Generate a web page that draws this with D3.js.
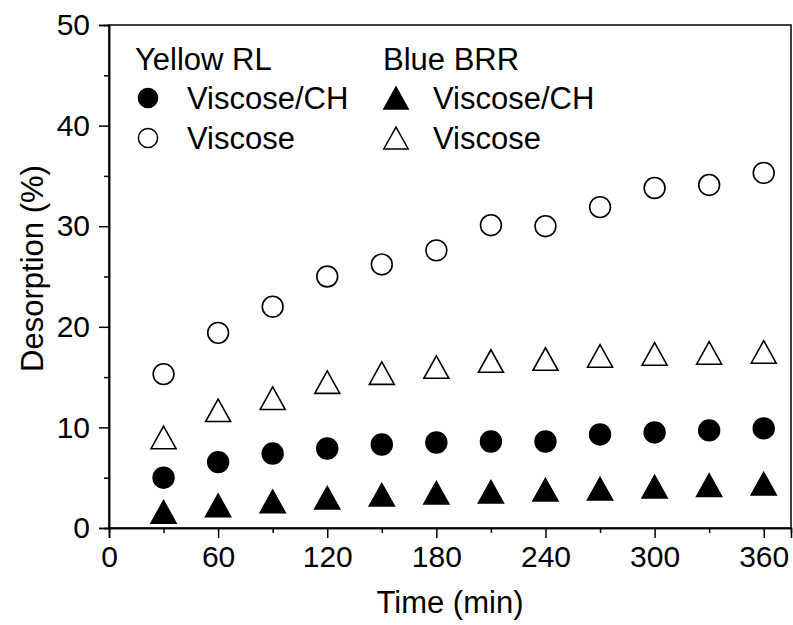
<!DOCTYPE html>
<html>
<head>
<meta charset="utf-8">
<script src="https://cdn.jsdelivr.net/npm/d3@7"></script>
<style>
  html, body { margin: 0; padding: 0; background: #fff; }
  svg { display: block; font-family: "Liberation Sans", Arial, sans-serif; }
</style>
</head>
<body>
<svg id="chart" width="793" height="625"></svg>
<script>
// ---- data ----
const times = [30, 60, 90, 120, 150, 180, 210, 240, 270, 300, 330, 360];
const yellowViscoseCH = [5.0, 6.55, 7.4, 7.9, 8.3, 8.5, 8.6, 8.6, 9.3, 9.5, 9.7, 9.9];
const yellowViscose   = [15.3, 19.4, 22.0, 25.0, 26.2, 27.6, 30.1, 30.0, 31.9, 33.8, 34.1, 35.3];
const blueViscoseCH   = [1.6, 2.25, 2.65, 3.0, 3.3, 3.5, 3.6, 3.8, 3.9, 4.1, 4.25, 4.4];
const blueViscose     = [9.0, 11.7, 12.9, 14.5, 15.4, 16.0, 16.6, 16.8, 17.1, 17.3, 17.4, 17.5];
const xTicks = [0, 60, 120, 180, 240, 300, 360];
const xMinorTicks = [30, 90, 150, 210, 270, 330];
const yTicks = [0, 10, 20, 30, 40, 50];
const yMinorTicks = [5, 15, 25, 35, 45];
const xLabel = "Time (min)";
const yLabel = "Desorption (%)";
const legendGroups = [
  { title: "Yellow RL", items: [
    { label: "Viscose/CH", shape: "circle", filled: true },
    { label: "Viscose", shape: "circle", filled: false } ] },
  { title: "Blue BRR", items: [
    { label: "Viscose/CH", shape: "triangle", filled: true },
    { label: "Viscose", shape: "triangle", filled: false } ] }
];
const series = [
  { values: yellowViscose, shape: "circle", filled: false },
  { values: blueViscose, shape: "triangle", filled: false },
  { values: yellowViscoseCH, shape: "circle", filled: true },
  { values: blueViscoseCH, shape: "triangle", filled: true }
];

// ---- layout ----
const margin = { left: 109, top: 25, right: 2, bottom: 97 };
const W = 793, H = 625;
const svg = d3.select("#chart");
const x = d3.scaleLinear().domain([0, 375]).range([margin.left, W - margin.right]);
const y = d3.scaleLinear().domain([0, 50]).range([H - margin.bottom, margin.top]);

// custom triangle centred on its bounding box
const triangleBox = {
  draw(ctx, size) {
    const s = Math.sqrt(size);
    const h = s * 0.9;
    ctx.moveTo(0, -h / 2);
    ctx.lineTo(s / 2, h / 2);
    ctx.lineTo(-s / 2, h / 2);
    ctx.closePath();
  }
};
function symbolPath(shape, scale) {
  if (shape === "circle") return d3.symbol().type(d3.symbolCircle).size(Math.PI * 10.4 * 10.4 * scale)();
  return d3.symbol().type(triangleBox).size(25 * 25 * scale)();
}

// frame
svg.append("rect")
  .attr("x", x(0)).attr("y", y(50))
  .attr("width", x(375) - x(0)).attr("height", y(0) - y(50))
  .attr("fill", "none").attr("stroke", "#000").attr("stroke-width", 1.5);

// x axis
const xAxis = d3.axisBottom(x).tickValues(xTicks).tickSize(10).tickPadding(8).tickFormat(d3.format("d"));
const gx = svg.append("g").attr("transform", `translate(0,${y(0)})`).call(xAxis);
const gxm = svg.append("g").attr("transform", `translate(0,${y(0)})`)
  .call(d3.axisBottom(x).tickValues(xMinorTicks).tickSize(5).tickFormat(""));
// y axis
const yAxis = d3.axisLeft(y).tickValues(yTicks).tickSize(10).tickPadding(9).tickFormat(d3.format("d"));
const gy = svg.append("g").attr("transform", `translate(${x(0)},0)`).call(yAxis);
const gym = svg.append("g").attr("transform", `translate(${x(0)},0)`)
  .call(d3.axisLeft(y).tickValues(yMinorTicks).tickSize(5).tickFormat(""));
[gx, gxm, gy, gym].forEach(g => {
  g.select(".domain").attr("stroke", "#000").attr("stroke-width", 1.5);
  g.selectAll(".tick line").attr("stroke", "#000").attr("stroke-width", 1.5);
  g.selectAll(".tick text").attr("fill", "#000").style("font-size", "30px")
    .style("font-family", '"Liberation Sans", Arial, sans-serif');
});

// axis titles
svg.append("text").attr("x", (x(0) + x(375)) / 2).attr("y", 613)
  .attr("text-anchor", "middle").style("font-size", "31px").text(xLabel);
svg.append("text").attr("transform", `translate(43,${(y(0) + y(50)) / 2 - 8}) rotate(-90)`)
  .attr("text-anchor", "middle").style("font-size", "31px").text(yLabel);

// data markers
series.forEach(s => {
  svg.append("g").selectAll("path").data(times.map((t, i) => [t, s.values[i]])).join("path")
    .attr("transform", d => `translate(${x(d[0])},${y(d[1])})`)
    .attr("d", symbolPath(s.shape, 1))
    .attr("fill", s.filled ? "#000" : "#fff")
    .attr("stroke", "#000").attr("stroke-width", 1.6);
});

// legend
const legendX = [135, 383];
const symOffset = [13, 13];
const textOffset = [52, 50];
legendGroups.forEach((g, gi) => {
  const lg = svg.append("g");
  lg.append("text").attr("x", legendX[gi]).attr("y", 70).style("font-size", "31px").text(g.title);
  g.items.forEach((it, ii) => {
    const cy = 98 + ii * 40;
    lg.append("path").attr("transform", `translate(${legendX[gi] + symOffset[gi]},${cy})`)
      .attr("d", symbolPath(it.shape, it.shape === "circle" ? 0.85 : 0.95))
      .attr("fill", it.filled ? "#000" : "#fff").attr("stroke", "#000").attr("stroke-width", 1.5);
    lg.append("text").attr("x", legendX[gi] + textOffset[gi]).attr("y", cy + 11)
      .style("font-size", "31px").text(it.label);
  });
});
</script>
</body>
</html>
